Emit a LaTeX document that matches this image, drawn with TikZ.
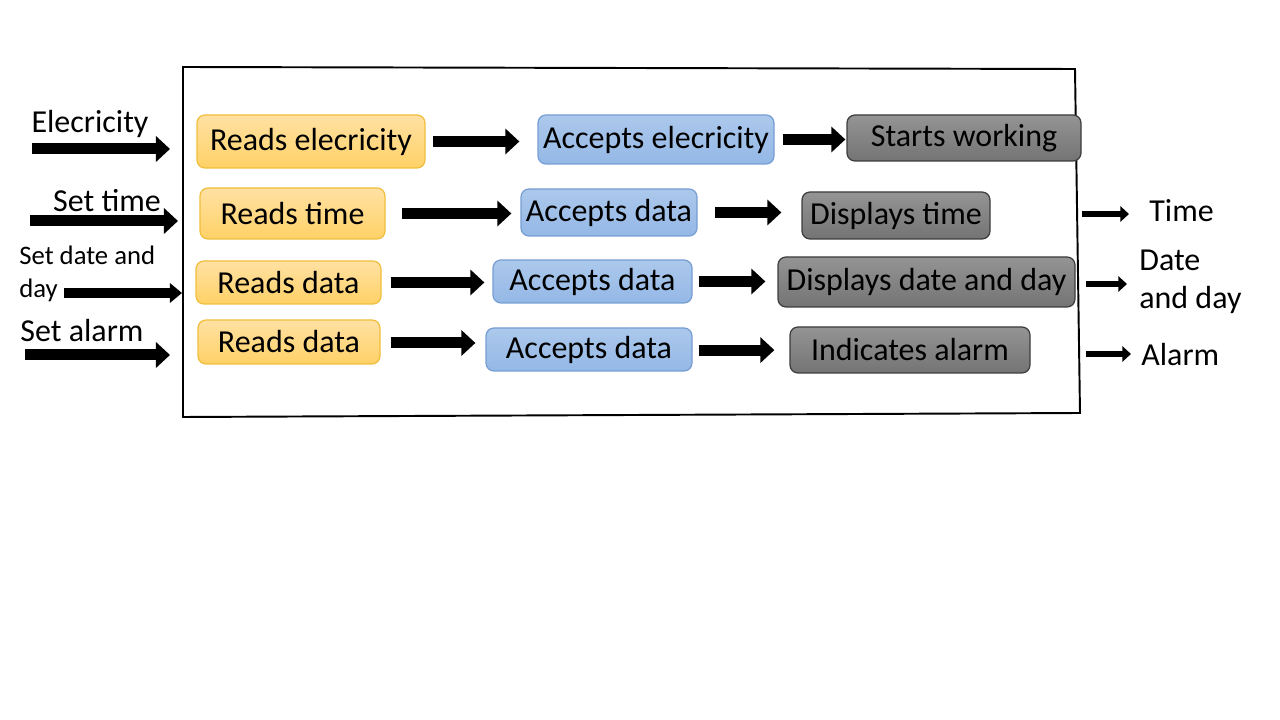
\documentclass[tikz,border=0pt]{standalone}
\usepackage{fontspec}
\setmainfont{Carlito}
\usetikzlibrary{arrows.meta}
\definecolor{rdtop}{RGB}{255,225,163}
\definecolor{rdbot}{RGB}{255,209,102}
\definecolor{rdline}{RGB}{240,190,60}
\definecolor{actop}{RGB}{172,200,236}
\definecolor{acbot}{RGB}{148,184,230}
\definecolor{acline}{RGB}{118,158,210}
\definecolor{dstop}{RGB}{148,148,148}
\definecolor{dsbot}{RGB}{116,116,116}
\definecolor{dsline}{RGB}{60,60,60}
\begin{document}
\begin{tikzpicture}[scale=0.2]
		\tikzstyle{every node}+=[inner sep=0pt, font=\fontsize{18.2}{21}\selectfont]
		\tikzstyle{box}=[draw, rounded corners=0.16cm, line width=0.7pt]
		\tikzstyle{rdbox}=[box, top color=rdtop, bottom color=rdbot, draw=rdline]
		\tikzstyle{acbox}=[box, top color=actop, bottom color=acbot, draw=acline]
		\tikzstyle{dsbox}=[box, top color=dstop, bottom color=dsbot, draw=dsline]
		\tikzstyle{bigarrow}=[line width=0.22cm, -{Triangle[length=0.28cm,width=0.5cm]}]
		\tikzstyle{midarrow}=[line width=0.2cm, -{Triangle[length=0.24cm,width=0.38cm]}]
		\tikzstyle{thinarrow}=[line width=0.13cm, -{Triangle[length=0.17cm,width=0.3cm]}]
		\useasboundingbox (0,0) rectangle (128,-72);
		\draw [black, line width=1.1pt] (18.3,-6.7) -- (107.5,-6.9) -- (108,-41.3) -- (18.3,-41.7) -- cycle;
		\node [rdbox, minimum width=4.56cm, minimum height=1.06cm] (r1) at (31.1,-14.15) {Reads elecricity};
		\node [acbox, minimum width=4.72cm, minimum height=0.98cm] (a1) at (65.6,-13.95) {Accepts elecricity};
		\node [dsbox, minimum width=4.68cm, minimum height=0.92cm] (s1) at (96.4,-13.8) {Starts working};
		\node [rdbox, minimum width=3.7cm, minimum height=1.02cm] (r2) at (29.25,-21.35) {Reads time};
		\node [acbox, minimum width=3.52cm, minimum height=0.94cm] (a2) at (60.9,-21.25) {Accepts data};
		\node [dsbox, minimum width=3.76cm, minimum height=0.94cm] (s2) at (89.6,-21.55) {Displays time};
		\node [rdbox, minimum width=3.7cm, minimum height=0.86cm] (r3) at (28.85,-28.25) {Reads data};
		\node [acbox, minimum width=3.98cm, minimum height=0.86cm] (a3) at (59.25,-28.15) {Accepts data};
		\node [dsbox, minimum width=5.94cm, minimum height=1.0cm] (s3) at (92.65,-28.2) {Displays date and day};
		\node [rdbox, minimum width=3.64cm, minimum height=0.88cm] (r4) at (28.9,-34.2) {Reads data};
		\node [acbox, minimum width=4.12cm, minimum height=0.86cm] (a4) at (58.9,-34.95) {Accepts data};
		\node [dsbox, minimum width=4.8cm, minimum height=0.92cm] (s4) at (91,-35) {Indicates alarm};
		\draw [bigarrow, shorten <=0.14cm, shorten >=0.36cm] (r1.east) -- (r1.east -| a1.west);
		\draw [bigarrow, shorten <=0.16cm, shorten >=0.02cm] (a1.east) -- (a1.east -| s1.west);
		\draw [bigarrow, shorten <=0.32cm, shorten >=0.18cm] (r2.east) -- (r2.east -| a2.west);
		\draw [bigarrow, shorten <=0.34cm, shorten >=0.4cm] (a2.east) -- (a2.east -| s2.west);
		\draw [bigarrow, shorten <=0.18cm, shorten >=0.16cm] (r3.east) -- (r3.east -| a3.west);
		\draw [bigarrow, shorten <=0.12cm, shorten >=0.24cm] (a3.east) -- (a3.east -| s3.west);
		\draw [bigarrow, shorten <=0.2cm, shorten >=0.2cm] ([yshift=-0.1cm]r4.east) -- ([yshift=-0.1cm]r4.east -| a4.west);
		\draw [bigarrow, shorten <=0.12cm, shorten >=0.3cm] ([yshift=-0.06cm]a4.east) -- ([yshift=-0.06cm]a4.east -| s4.west);
		\node (lbE) at (9,-12.4) {Elecricity};
		\node (lbT) at (10.7,-20.1) {Set time};
		\node [anchor=west, align=left, font=\fontsize{15.2}{18.7}\selectfont] (lbD) at (1.9,-27.35) {Set date and\\day};
		\node (lbA) at (8.2,-33.1) {Set alarm};
		\coordinate (iE0) at (3.2,-14.9);
		\coordinate (iE1) at (17,-14.9);
		\coordinate (iT0) at (3,-22.1);
		\coordinate (iT1) at (17.8,-22.1);
		\coordinate (iD0) at (6.4,-29.3);
		\coordinate (iD1) at (18.2,-29.3);
		\coordinate (iA0) at (2.5,-35.5);
		\coordinate (iA1) at (17,-35.5);
		\draw [bigarrow] (iE0) -- (iE1);
		\draw [bigarrow] (iT0) -- (iT1);
		\draw [midarrow] (iD0) -- (iD1);
		\draw [bigarrow] (iA0) -- (iA1);
		\node [anchor=west] (oT) at (114.9,-21.1) {Time};
		\node [anchor=west, align=left, font=\fontsize{18.2}{21.5}\selectfont] (oD) at (113.9,-28.2) {Date\\and day};
		\node [anchor=west] (oA) at (114.1,-35.5) {Alarm};
		\coordinate (oT0) at (108.2,-21.4);
		\coordinate (oD0) at (108.6,-28.4);
		\coordinate (oA0) at (108.6,-35.4);
		\draw [thinarrow, shorten >=0.4cm] (oT0) -- (oT0 -| oT.west);
		\draw [thinarrow, shorten >=0.24cm] (oD0) -- (oD0 -| oD.west);
		\draw [thinarrow, shorten >=0.2cm] (oA0) -- (oA0 -| oA.west);
	\end{tikzpicture}
\end{document}
